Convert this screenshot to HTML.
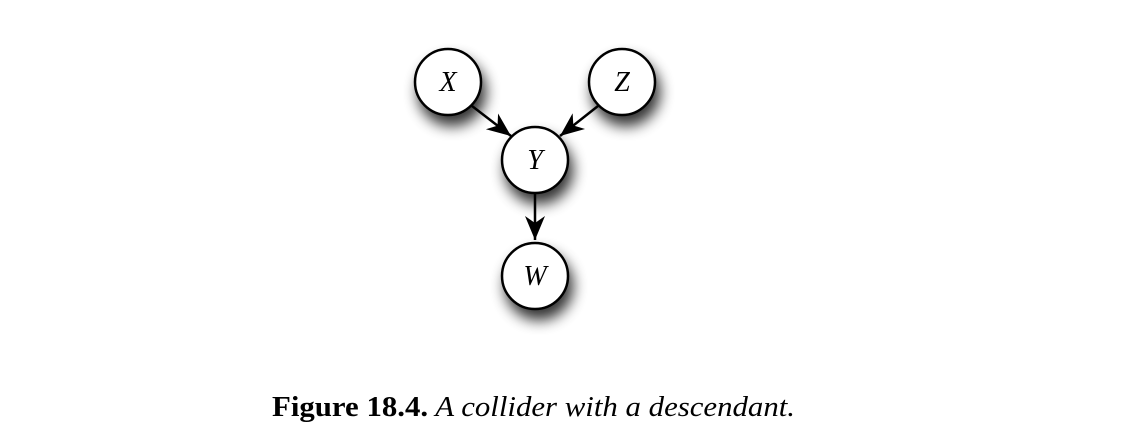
<!DOCTYPE html>
<html><head><meta charset="utf-8"><style>
html,body{margin:0;padding:0;background:#fff;}
body{width:1134px;height:442px;overflow:hidden;position:relative;}
svg{position:absolute;left:0;top:0;}
</style></head><body>
<svg width="1134" height="442">
<defs>
<filter id="sh" x="-60%" y="-60%" width="220%" height="220%">
<feGaussianBlur in="SourceAlpha" stdDeviation="7"/>
<feOffset dx="4" dy="10" result="b"/>
<feComponentTransfer><feFuncA type="linear" slope="0.8"/></feComponentTransfer>
<feMerge><feMergeNode/><feMergeNode in="SourceGraphic"/></feMerge>
</filter>
<marker id="ah" markerWidth="26" markerHeight="24" refX="24" refY="12" orient="auto" markerUnits="userSpaceOnUse">
<path d="M0,2 L24,12 L0,22 L7,12 Z" fill="#000"/>
</marker>
</defs>
<g stroke="#000" stroke-width="2.5">
<line x1="472" y1="106" x2="511" y2="136" marker-end="url(#ah)"/>
<line x1="598" y1="106" x2="560" y2="136" marker-end="url(#ah)"/>
<line x1="535" y1="193" x2="535" y2="240" marker-end="url(#ah)"/>
</g>
<g font-family="Liberation Serif, serif" font-style="italic" font-size="28" text-anchor="middle">
<g><circle cx="448" cy="82" r="33" fill="#fff" stroke="#000" stroke-width="2.5" filter="url(#sh)"/><text x="448" y="91">X</text></g>
<g><circle cx="622" cy="82" r="33" fill="#fff" stroke="#000" stroke-width="2.5" filter="url(#sh)"/><text x="622" y="91">Z</text></g>
<g><circle cx="535" cy="160" r="33" fill="#fff" stroke="#000" stroke-width="2.5" filter="url(#sh)"/><text x="535" y="169">Y</text></g>
<g><circle cx="535" cy="276" r="33" fill="#fff" stroke="#000" stroke-width="2.5" filter="url(#sh)"/><text x="535" y="285">W</text></g>
</g>
<text x="272" y="416" font-family="Liberation Serif, serif" font-size="28" textLength="523" lengthAdjust="spacingAndGlyphs"><tspan font-weight="bold">Figure 18.4.</tspan><tspan font-style="italic"> A collider with a descendant.</tspan></text>
</svg>
</body></html>
